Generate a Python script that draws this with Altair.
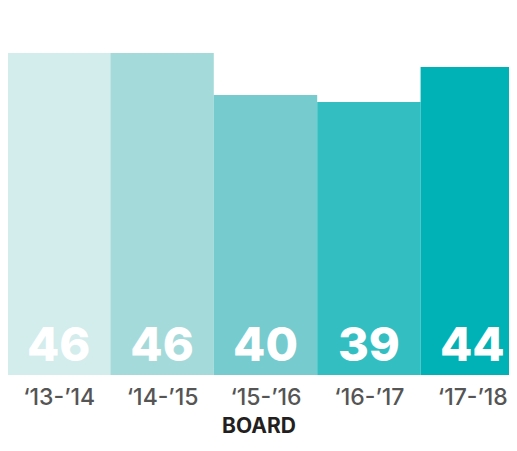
import altair as alt
import pandas as pd

seasons = ["\u201813-\u201914", "\u201814-\u201915", "\u201815-\u201916", "\u201816-\u201917", "\u201817-\u201918"]
values = [46, 46, 40, 39, 44]
colors = ["#D3ECEC", "#A5DADB", "#75CBCD", "#33BFC2", "#00B2B5"]

df = pd.DataFrame({"season": seasons, "value": values})
df["i"] = range(len(seasons))
df["i2"] = df["i"] + 1
df["mid"] = df["i"] + 0.5
df["base"] = 0

label_expr = "[" + ",".join("'" + s + "'" for s in seasons) + "][floor(datum.value)]"

xscale = alt.Scale(domain=[0.0097, 4.855], nice=False, zero=False)
yscale = alt.Scale(domain=[0, 52.43], nice=False, zero=True)

bars = alt.Chart(df).mark_bar(clip=True, stroke=None).encode(
    x=alt.X("i:Q", scale=xscale, title="BOARD",
            axis=alt.Axis(values=[0.5, 1.5, 2.5, 3.5, 4.5], labelExpr=label_expr,
                          domain=False, ticks=False, grid=False,
                          labelFont="Inter", labelFontSize=23, labelFontWeight=500,
                          labelColor="#555555", labelPadding=11, labelFlush=False,
                          labelOverlap=False,
                          titleFont="Inter", titleFontSize=21, titleFontWeight="bold",
                          titleColor="#231F20", titlePadding=6)),
    x2="i2:Q",
    y=alt.Y("value:Q", scale=yscale, axis=None),
    y2=alt.Y2("base:Q"),
    color=alt.Color("season:N", sort=seasons, scale=alt.Scale(domain=seasons, range=colors), legend=None),
)

labels = alt.Chart(df).mark_text(
    font="Inter", fontSize=47, fontWeight=800, color="white", baseline="alphabetic", dy=-14
).encode(
    x=alt.X("mid:Q", scale=xscale),
    y=alt.Y("base:Q", scale=yscale),
    text=alt.Text("value:Q"),
)

chart = (bars + labels).properties(
    width=501, height=367,
    autosize=alt.AutoSizeParams(type="none"),
    padding={"left": 0, "top": 0, "right": 0, "bottom": 63},
).configure_view(stroke=None)

chart.save("out.html", embed_options={"renderer": "svg", "actions": False})
